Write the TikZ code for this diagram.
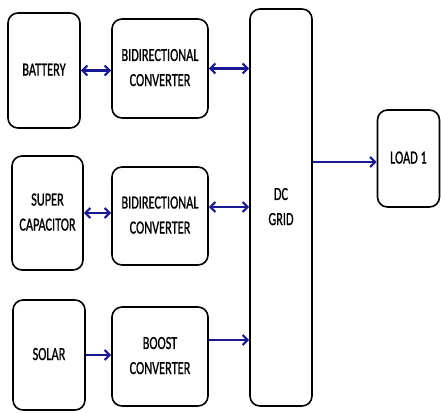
\documentclass[tikz,border=0pt]{standalone}
\usepackage{fontspec}
\setmainfont{Carlito}[FakeBold=1.2]
\usetikzlibrary{arrows.meta}
\definecolor{arrowblue}{RGB}{25,25,150}
\newcommand{\lbl}[1]{\scalebox{1}[1.5]{\fontsize{12.3}{16.7}\selectfont\begin{tabular}{@{}c@{}}#1\end{tabular}}}
\tikzset{
  blk/.style={draw=black, line width=1.6pt, rounded corners=10pt, inner sep=0pt, align=center, fill=white},
  conn/.style={draw=arrowblue, line width=2.5pt, -{Straight Barb[length=5pt,width=10pt,line width=2.2pt]}},
  bconn/.style={draw=arrowblue, line width=2.5pt, {Straight Barb[length=5pt,width=10pt,line width=2.2pt]}-{Straight Barb[length=5pt,width=10pt,line width=2.2pt]}}
}
\begin{document}
\begin{tikzpicture}[x=1pt,y=-1pt]
\useasboundingbox (0,0) rectangle (441,412);
\node[blk, minimum width=72pt, minimum height=115pt] (bat) at (44,70.5) {\lbl{BATTERY}};
\node[blk, minimum width=96pt, minimum height=99pt] (bid1) at (160,68.5) {\lbl{BIDIRECTIONAL\\CONVERTER}};
\node[blk, minimum width=62pt, minimum height=397pt] (grid) at (281,207.5) {\lbl{DC\\GRID}};
\node[blk, minimum width=62pt, minimum height=97pt] (load) at (408.5,158.5) {\lbl{LOAD 1}};
\node[blk, minimum width=71pt, minimum height=114pt] (sc) at (47.5,213) {\lbl{SUPER\\CAPACITOR}};
\node[blk, minimum width=96pt, minimum height=98pt] (bid2) at (160,216) {\lbl{BIDIRECTIONAL\\CONVERTER}};
\node[blk, minimum width=72pt, minimum height=110pt] (sol) at (49,355) {\lbl{SOLAR}};
\node[blk, minimum width=96pt, minimum height=99pt] (bst) at (160,356.5) {\lbl{BOOST\\CONVERTER}};
\draw[bconn] (bat.east) -- (bat.east -| bid1.west);
\draw[bconn] (bid1.east) -- (bid1.east -| grid.west);
\draw[bconn] (sc.east) -- (sc.east -| bid2.west);
\draw[bconn] ([yshift=9pt]bid2.east) -- ([yshift=9pt]bid2.east -| grid.west);
\draw[conn] (sol.east) -- (sol.east -| bst.west);
\draw[conn] ([yshift=16.5pt]bst.east) -- ([yshift=16.5pt]bst.east -| grid.west);
\draw[conn] ([yshift=-3.5pt]load.west -| grid.east) -- ([yshift=-3.5pt]load.west);
\end{tikzpicture}
\end{document}
